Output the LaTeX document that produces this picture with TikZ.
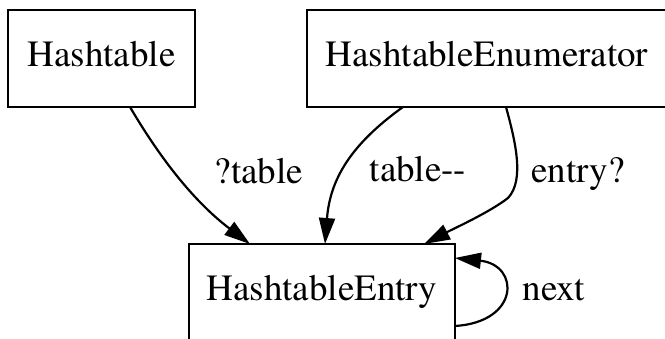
\documentclass[tikz,border=0pt]{standalone}
\usepackage{fontspec}
\newfontfamily\labelfont{texgyretermes-regular.otf}
\usetikzlibrary{arrows.meta}

\begin{document}
\begin{tikzpicture}[x=1pt, y=-1pt,
  every node/.style={font=\labelfont\fontsize{37}{41}\selectfont},
  classbox/.style={draw, line width=2pt, rectangle, inner sep=0pt, outer sep=0pt,
    minimum height=97pt, text height=25pt, text depth=8pt},
  edge/.style={line width=2.2pt, -{Triangle[length=26pt, width=16pt]}},
  elabel/.style={anchor=base, inner sep=0pt}]

  \useasboundingbox (0,0) rectangle (665,339);

  % class nodes
  \node[classbox, minimum width=187pt] (ht) at (101.5,58.5) {Hashtable};
  \node[classbox, minimum width=360pt] (en) at (487,58.5) {HashtableEnumerator};
  \node[classbox, minimum width=266pt] (he) at (322,292.5) {HashtableEntry};

  % Hashtable -> HashtableEntry
  \draw[edge] ([xshift=28.5pt]ht.south)
    .. controls (170,175) and (205,210) .. ([xshift=-72pt]he.north);
  \node[elabel] (l1) at (259,184) {?table};

  % HashtableEnumerator -> HashtableEntry (table)
  \draw[edge] ([xshift=-84pt]en.south)
    .. controls (350,145) and (330,180) .. ([xshift=3pt]he.north);
  \node[elabel] (l2) at (418,182) {table-{}-};

  % HashtableEnumerator -> HashtableEntry (entry)
  \draw[edge] ([xshift=19pt]en.south)
    .. controls (515,140) and (525,180) .. (508,198)
    .. controls (490,212) and (455,228) .. ([xshift=102pt]he.north);
  \node[elabel] (l3) at (578,183) {entry?};

  % self loop on HashtableEntry
  \draw[edge] ([yshift=-33.5pt]he.east)
    .. controls (520,322) and (520,265) .. ([yshift=34.5pt]he.east);
  \node[elabel] (l4) at (554,301) {next};
\end{tikzpicture}
\end{document}
